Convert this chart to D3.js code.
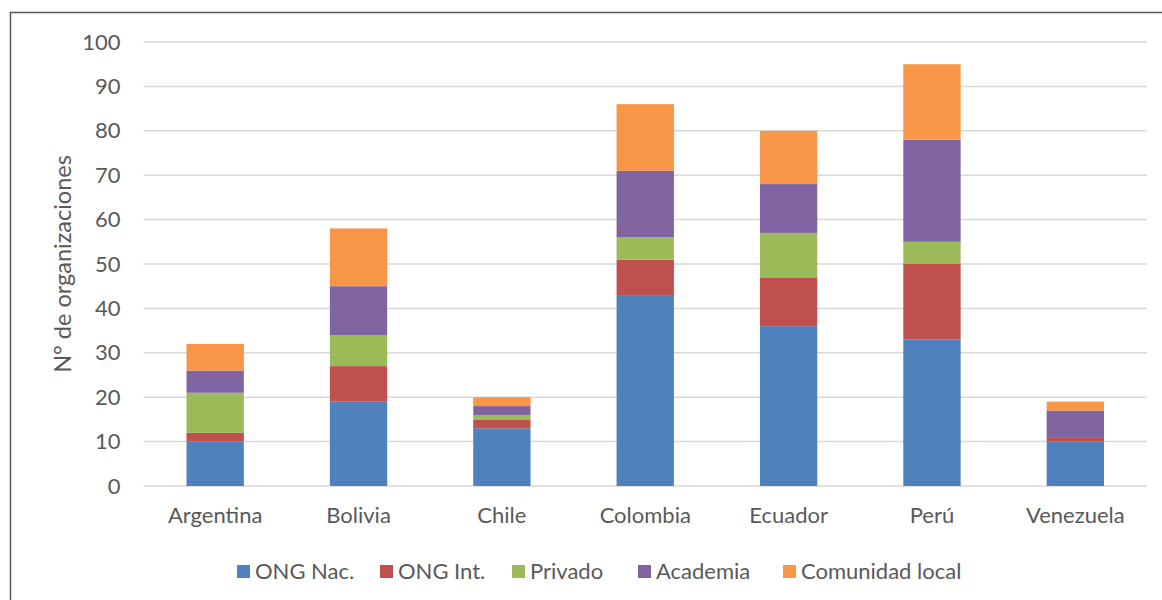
<!DOCTYPE html>
<html>
<head>
<meta charset="utf-8">
<script src="https://cdn.jsdelivr.net/npm/d3@7"></script>
<style>
  body { margin: 0; background: #fff; }
  text { font-family: Lato, "Open Sans", sans-serif; fill: #595959; }
</style>
</head>
<body>
<script>
var countries = ["Argentina", "Bolivia", "Chile", "Colombia", "Ecuador", "Perú", "Venezuela"];
var seriesNames = ["ONG Nac.", "ONG Int.", "Privado", "Academia", "Comunidad local"];
var ongNac    = [10, 19, 13, 43, 36, 33, 10];
var ongInt    = [2, 8, 2, 8, 11, 17, 1];
var privado   = [9, 7, 1, 5, 10, 5, 0];
var academia  = [5, 11, 2, 15, 11, 23, 6];
var comunidad = [6, 13, 2, 15, 12, 17, 2];
var yTicks = [0, 10, 20, 30, 40, 50, 60, 70, 80, 90, 100];
var colors = ["#4F81BD", "#C0504D", "#9BBB59", "#8064A2", "#F79646"];

var width = 1162, height = 600;
var plot = {left: 143.5, right: 1147, top: 42, bottom: 486};

var rows = countries.map(function(c, i) {
  return {country: c, "ONG Nac.": ongNac[i], "ONG Int.": ongInt[i], "Privado": privado[i],
          "Academia": academia[i], "Comunidad local": comunidad[i]};
});
var stacked = d3.stack().keys(seriesNames)(rows);

var svg = d3.select("body").append("svg")
    .attr("width", width)
    .attr("height", height);

// outer frame
svg.append("rect")
    .attr("x", 10.5).attr("y", 12.5)
    .attr("width", 1160).attr("height", 600)
    .attr("fill", "none")
    .attr("stroke", "#595959")
    .attr("stroke-width", 1.5);

var x = d3.scaleBand()
    .domain(countries)
    .range([plot.left, plot.right])
    .paddingInner(0.6)
    .paddingOuter(0.3);

var y = d3.scaleLinear()
    .domain([0, 100])
    .range([plot.bottom, plot.top]);

// gridlines
svg.append("g").selectAll("line")
    .data(yTicks)
    .enter().append("line")
    .attr("x1", plot.left).attr("x2", plot.right)
    .attr("y1", function(d) { return y(d); })
    .attr("y2", function(d) { return y(d); })
    .attr("stroke", "#D9D9D9")
    .attr("stroke-width", 1.5);

// y axis labels
var yAxis = d3.axisLeft(y).tickValues(yTicks).tickSize(0).tickPadding(23);
var gy = svg.append("g")
    .attr("transform", "translate(" + plot.left + ",0)")
    .call(yAxis);
gy.select(".domain").remove();
gy.selectAll("text").style("font-size", "22px").attr("fill", "#595959");

// x axis labels
var xAxis = d3.axisBottom(x).tickSize(0).tickPadding(21);
var gx = svg.append("g")
    .attr("transform", "translate(0," + plot.bottom + ")")
    .call(xAxis);
gx.select(".domain").remove();
gx.selectAll("text").style("font-size", "22px").attr("fill", "#595959");

// bars
svg.append("g").selectAll("g")
    .data(stacked)
    .enter().append("g")
    .attr("fill", function(d, i) { return colors[i]; })
    .selectAll("rect")
    .data(function(d) { return d; })
    .enter().append("rect")
    .attr("x", function(d) { return x(d.data.country); })
    .attr("width", x.bandwidth())
    .attr("y", function(d) { return y(d[1]); })
    .attr("height", function(d) { return y(d[0]) - y(d[1]); });

// y title
svg.append("text")
    .attr("transform", "translate(71,264) rotate(-90)")
    .attr("text-anchor", "middle")
    .style("font-size", "23.5px")
    .text("N° de organizaciones");

// legend
var legendX = [237, 380, 512, 638, 783];
var legend = svg.append("g").selectAll("g")
    .data(seriesNames)
    .enter().append("g")
    .attr("transform", function(d, i) { return "translate(" + legendX[i] + ",565)"; });
legend.append("rect")
    .attr("width", 13).attr("height", 13)
    .attr("fill", function(d, i) { return colors[i]; });
legend.append("text")
    .attr("x", 18).attr("y", 6.5)
    .attr("dy", "0.35em")
    .style("font-size", "22px")
    .text(function(d) { return d; });
</script>
</body>
</html>
